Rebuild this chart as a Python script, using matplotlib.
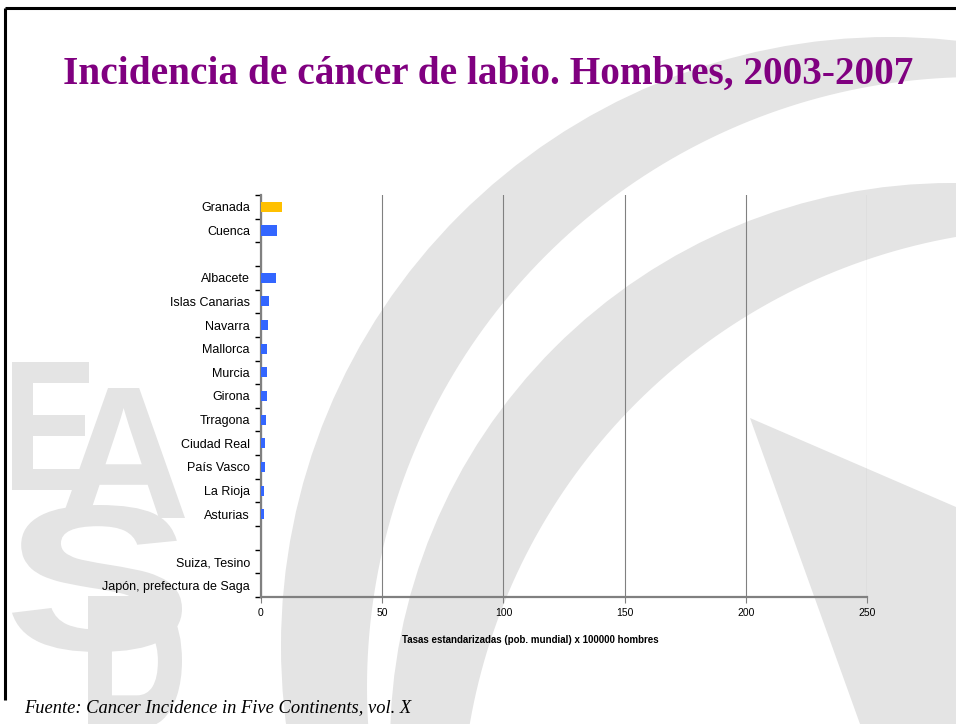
#!/usr/bin/env python3
"""Lip cancer incidence, men 2003-2007: horizontal bar chart on an EASP slide."""

import matplotlib
matplotlib.use("Agg")
import matplotlib.pyplot as plt
import numpy as np
from matplotlib.font_manager import FontProperties
from matplotlib.patches import Circle, PathPatch, Polygon
from matplotlib.path import Path
from matplotlib.textpath import TextPath
import matplotlib.transforms as mtransforms

# --- data ---
REGISTRIES = [
    "Granada", "Cuenca", "", "Albacete", "Islas Canarias", "Navarra", "Mallorca",
    "Murcia", "Girona", "Trragona", "Ciudad Real", "País Vasco", "La Rioja",
    "Asturias", "", "Suiza, Tesino", "Japón, prefectura de Saga",
]
RATES = [8.6, 6.6, 0.0, 6.2, 3.3, 2.9, 2.5, 2.5, 2.5, 2.1, 1.8, 1.8, 1.3, 1.3, 0.0, 0.0, 0.0]
HIGHLIGHT = "Granada"
X_TICKS = [0, 50, 100, 150, 200, 250]

TITLE = "Incidencia de cáncer de labio. Hombres, 2003-2007"
XLABEL = "Tasas estandarizadas (pob. mundial) x 100000 hombres"
SOURCE = "Fuente: Cancer Incidence in Five Continents, vol. X"

BLUE = "#3366FF"
GOLD = "#FFC000"
PURPLE = "#800080"
WATERMARK = "#E4E4E4"

W, H = 956, 724


def letter(ax, ch, box):
    x0, y0, x1, y1 = box
    tp = TextPath((0, 0), ch, size=1,
                  prop=FontProperties(family="Liberation Sans", weight="bold"))
    bb = tp.get_extents()
    tr = (mtransforms.Affine2D()
          .translate(-bb.x0, -bb.y0)
          .scale((x1 - x0) / bb.width, -(y1 - y0) / bb.height)
          .translate(x0, y1))
    ax.add_patch(PathPatch(tr.transform_path(tp), fc=WATERMARK, ec="none"))


def crescent(ax, c_out, r_out, c_in, r_in):
    # outer disc minus inner disc
    patch = Circle(c_out, r_out, fc=WATERMARK, ec="none")
    ax.add_patch(patch)
    frame = [(-4000, -4000), (4000, -4000), (4000, 4000), (-4000, 4000), (-4000, -4000)]
    t = np.linspace(0, 2 * np.pi, 361)[::-1]
    hole = np.column_stack([c_in[0] + r_in * np.cos(t), c_in[1] + r_in * np.sin(t)])
    verts = np.vstack([frame, hole])
    codes = ([Path.MOVETO] + [Path.LINETO] * 4
             + [Path.MOVETO] + [Path.LINETO] * (len(hole) - 1))
    patch.set_clip_path(Path(verts, codes), transform=ax.transData)


def draw_background(fig):
    bg = fig.add_axes([0, 0, 1, 1], zorder=0)
    bg.set_xlim(0, W)
    bg.set_ylim(H, 0)
    bg.axis("off")

    # arcs of the slide logo
    crescent(bg, (890, 646), 609, (977, 687), 610)
    crescent(bg, (952, 745), 562, (1059, 826), 598)
    bg.add_patch(Polygon([(750, 418), (956, 507), (956, 724), (860, 724)],
                         closed=True, fc=WATERMARK, ec="none"))

    # EASP letters
    letter(bg, "E", (12, 362, 92, 490))
    letter(bg, "A", (62, 388, 185, 518))
    letter(bg, "S", (12, 505, 182, 652))
    letter(bg, "P", (88, 596, 182, 800))

    # slide frame
    bg.plot([5, W], [8, 8], color="black", lw=2.2, solid_capstyle="butt")
    bg.plot([5, 5], [8, 700], color="black", lw=2.2, solid_capstyle="butt")


def main():
    fig = plt.figure(figsize=(W / 100, H / 100), dpi=100)
    fig.patch.set_facecolor("white")
    draw_background(fig)

    ax = fig.add_axes([261 / W, 1 - 597 / H, (867 - 261) / W, (597 - 195) / H], zorder=1)
    ax.patch.set_alpha(0)

    y = np.arange(len(REGISTRIES))
    colors = [GOLD if name == HIGHLIGHT else BLUE for name in REGISTRIES]
    ax.barh(y, RATES, height=0.43, color=colors, zorder=3)

    ax.set_xlim(0, 250)
    ax.set_ylim(len(REGISTRIES) - 0.5, -0.5)
    ax.set_xticks(X_TICKS)
    ax.set_xticklabels([str(t) for t in X_TICKS], fontsize=7.5, family="Liberation Sans")
    ax.set_yticks(y)
    ax.set_yticklabels(REGISTRIES, fontsize=9, family="Liberation Sans")
    ax.set_yticks(np.arange(len(REGISTRIES) + 1) - 0.5, minor=True)
    ax.tick_params(axis="y", which="major", length=0, pad=8)
    ax.tick_params(axis="y", which="minor", length=4, width=1, color="black", direction="out")
    ax.tick_params(axis="x", length=4, width=0.8, color="#808080", pad=4)

    ax.grid(axis="x", color="#808080", lw=0.8, zorder=1)
    for side in ("top", "right"):
        ax.spines[side].set_visible(False)
    for side in ("left", "bottom"):
        ax.spines[side].set_color("#808080")
        ax.spines[side].set_linewidth(1.6)

    fig.text(530 / W, 1 - 640 / H, XLABEL, fontsize=7, fontweight="bold",
             family="Liberation Sans", ha="center", va="center")
    fig.text(488 / W, 1 - 74 / H, TITLE, fontsize=28.3, fontweight="bold",
             family="Liberation Serif", color=PURPLE, ha="center", va="center")
    fig.text(24 / W, 1 - 708 / H, SOURCE, fontsize=13.3, style="italic",
             family="Liberation Serif", ha="left", va="center")

    fig.savefig("out.png", dpi=100)


if __name__ == "__main__":
    main()
